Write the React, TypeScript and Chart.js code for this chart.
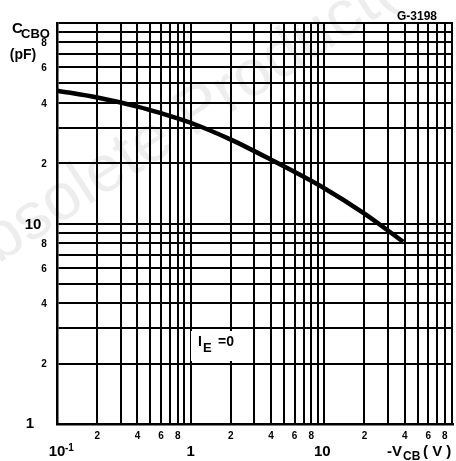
import React, { useEffect, useRef } from 'react';
import { Chart, registerables } from 'chart.js';
Chart.register(...registerables);

// Curve: C_CBO (pF) vs -V_CB (V), I_E = 0
const vcb = [0.1, 0.2, 0.4, 0.6, 1, 2, 4, 10, 20, 39];
const ccbo = [46.0, 42.5, 38.3, 35.5, 31.8, 26.2, 20.8, 15.0, 11.2, 8.1];

// Grid lines
const xGrid = [0.1, 0.2, 0.3, 0.4, 0.5, 0.6, 0.7, 0.8, 0.9, 1, 2, 3, 4, 5, 6, 7, 8, 9, 10, 20, 30, 40, 50, 60, 70, 80, 90];
const yGrid = [1, 2, 3, 4, 5, 6, 7, 8, 9, 10, 20, 30, 40, 50, 60, 70, 80, 90, 100];

// Tick labels
const xMinorVals = [0.2, 0.4, 0.6, 0.8, 2, 4, 6, 8, 20, 40, 60, 80];
const xMinorText = ['2', '4', '6', '8', '2', '4', '6', '8', '2', '4', '6', '8'];
const xMajorVals = [0.1, 1, 10];
const xMajorText = ['10', '1', '10'];
const yMinorVals = [2, 4, 6, 8, 20, 40, 60, 80];
const yMinorText = ['2', '4', '6', '8', '2', '4', '6', '8'];
const yMajorVals = [1, 10];
const yMajorText = ['1', '10'];

const FONT = '"Liberation Sans", Arial, sans-serif';

export default function App() {
  const ref = useRef<HTMLCanvasElement>(null);
  useEffect(() => {
    document.body.style.margin = '0';
    const canvas = ref.current!;
    const labelPlugin = {
      id: 'labels',
      beforeDraw(chart: any) {
        const c = chart.ctx;
        c.save();
        c.fillStyle = 'rgba(0,0,0,0.07)';
        c.font = `66px ${FONT}`;
        c.translate(-45, 292);
        c.rotate(-33 * Math.PI / 180);
        c.textBaseline = 'alphabetic';
        c.fillText('Obsolete Product(s)', 0, 0);
        c.restore();
      },
      afterDraw(chart: any) {
        const c = chart.ctx;
        const xs = chart.scales.x;
        const ys = chart.scales.y;
        const a = chart.chartArea;
        c.save();
        c.fillStyle = '#000';
        c.textAlign = 'center';
        c.textBaseline = 'middle';
        // y labels
        c.font = `bold 10px ${FONT}`;
        yMinorVals.forEach((v, i) => c.fillText(yMinorText[i], a.left - 13, ys.getPixelForValue(v) + 1));
        c.font = `bold 15px ${FONT}`;
        c.fillText(yMajorText[0], a.left - 27, ys.getPixelForValue(yMajorVals[0]));
        c.fillText(yMajorText[1], a.left - 24, ys.getPixelForValue(yMajorVals[1]) + 1);
        // x minor labels
        c.font = `bold 10px ${FONT}`;
        xMinorVals.forEach((v, i) => c.fillText(xMinorText[i], xs.getPixelForValue(v), a.bottom + 12));
        // x major labels
        c.font = `bold 15px ${FONT}`;
        xMajorVals.forEach((v, i) => c.fillText(xMajorText[i], xs.getPixelForValue(v) - (i === 2 ? 2 : 0), a.bottom + 28));
        c.font = `bold 10px ${FONT}`;
        c.textAlign = 'left';
        c.fillText('-1', xs.getPixelForValue(0.1) + 8, a.bottom + 24);
        // axis title x
        c.font = `bold 15px ${FONT}`;
        c.fillText('-V', 387, a.bottom + 28);
        c.font = `bold 12px ${FONT}`;
        c.fillText('CB', 403, a.bottom + 33);
        c.font = `bold 15px ${FONT}`;
        c.fillText('( V )', 423, a.bottom + 28);
        // axis title y
        c.font = `bold 15px ${FONT}`;
        c.fillText('C', 12, 29);
        c.font = `bold 13px ${FONT}`;
        c.fillText('CBO', 21, 34);
        c.font = `bold 14px ${FONT}`;
        c.textAlign = 'center';
        c.fillText('(pF)', 23, 55);
        // figure code
        c.font = `bold 12px ${FONT}`;
        c.fillText('G-3198', 417, 17);
        // I_E = 0 annotation
        c.fillStyle = '#fff';
        c.fillRect(191, 331, 60, 30);
        c.fillStyle = '#000';
        c.textAlign = 'left';
        c.font = `bold 14px ${FONT}`;
        c.fillText('I', 198, 342);
        c.font = `bold 13px ${FONT}`;
        c.fillText('E', 203, 348);
        c.font = `bold 14px ${FONT}`;
        c.fillText('=0', 218, 342);
        c.restore();
      },
    };
    const chart = new Chart(canvas, {
      type: 'line',
      data: {
        datasets: [
          {
            data: vcb.map((x, i) => ({ x, y: ccbo[i] })),
            borderColor: '#000',
            borderWidth: 4.5,
            pointRadius: 0,
            cubicInterpolationMode: 'monotone',
            fill: false,
          },
        ],
      },
      options: {
        animation: false,
        responsive: false,
        layout: { padding: { left: 57, right: 3, top: 23, bottom: 37 } },
        plugins: { legend: { display: false }, tooltip: { enabled: false } },
        scales: {
          x: {
            type: 'logarithmic',
            min: 0.1,
            max: 92,
            afterBuildTicks: (s: any) => {
              s.ticks = xGrid.map((v) => ({ value: v }));
            },
            ticks: { display: false },
            grid: { color: '#000', lineWidth: 2, drawTicks: false },
            border: { color: '#000', width: 2.5 },
          },
          y: {
            type: 'logarithmic',
            min: 1,
            max: 100,
            afterBuildTicks: (s: any) => {
              s.ticks = yGrid.map((v) => ({ value: v }));
            },
            ticks: { display: false },
            grid: { color: '#000', lineWidth: 2, drawTicks: false },
            border: { color: '#000', width: 2.5 },
          },
        },
      },
      plugins: [labelPlugin],
    } as any);
    return () => chart.destroy();
  }, []);
  return <canvas ref={ref} width={456} height={461} style={{ display: 'block' }} />;
}
